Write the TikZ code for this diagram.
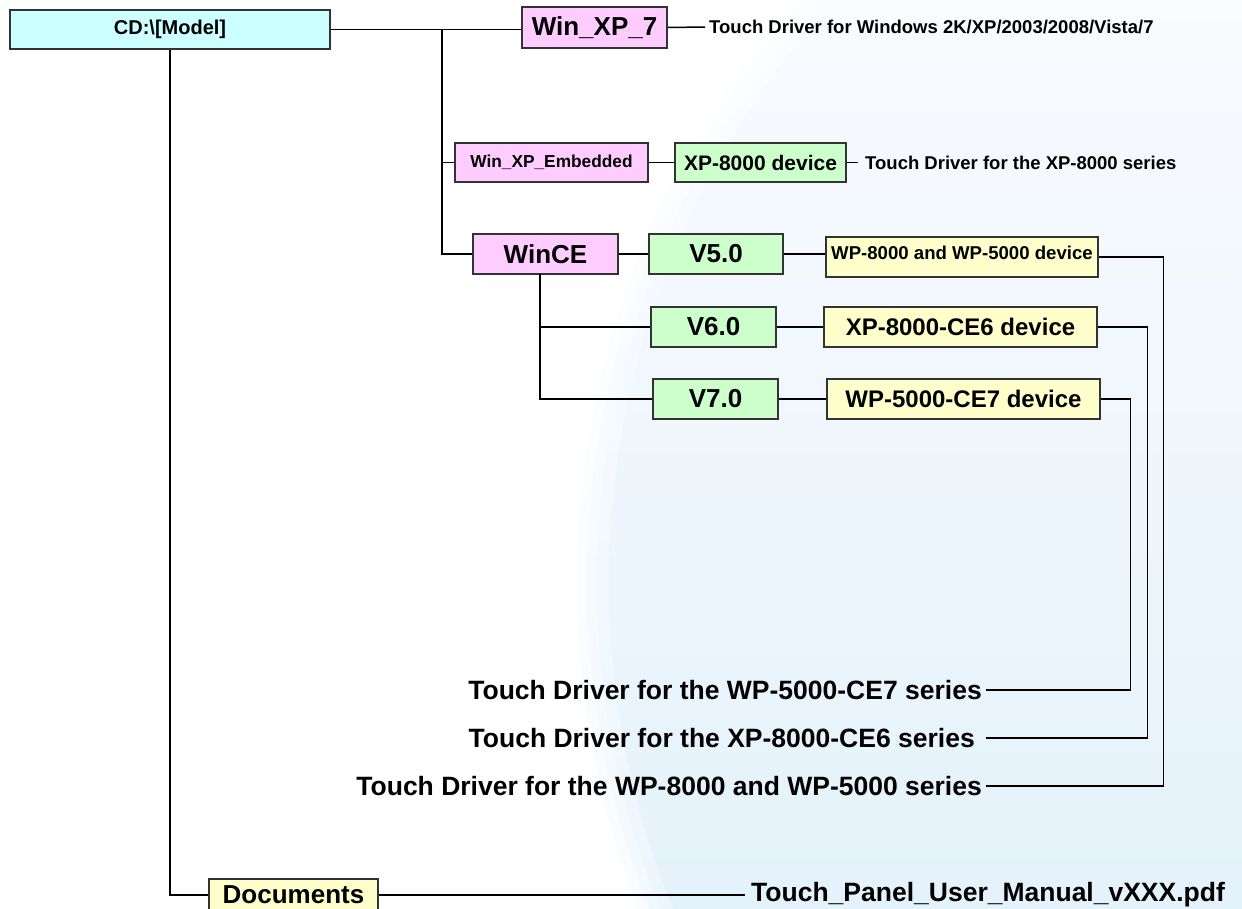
\documentclass[tikz,border=0pt]{standalone}
\usepackage{fontspec}
\setmainfont{Liberation Sans}
\usetikzlibrary{calc}
\definecolor{boxcyan}{HTML}{CCFFFF}
\definecolor{boxpink}{HTML}{FFCCFF}
\definecolor{boxgreen}{HTML}{CCFFCC}
\definecolor{boxyellow}{HTML}{FFFFCC}
\definecolor{bgtop}{HTML}{F9FBFE}
\definecolor{bgbottom}{HTML}{E4F2FB}
\def\fsz#1{\fontsize{#1}{#1}\selectfont\bfseries}
\tikzset{
	folder/.style={draw=black!80, line width=1.3pt, inner sep=0pt, font=\fsz{26}},
	note/.style={inner sep=4pt, font=\fsz{18.5}},
	bignote/.style={inner sep=4pt, font=\fsz{26.5}},
	wire/.style={line width=1.5pt, black}
}

\begin{document}
\begin{tikzpicture}[x=1pt, y=-1pt]
			%%%%% START %%%%%
			
			\useasboundingbox (0, 0) rectangle (1242, 908);
			% soft edged backdrop
			\foreach \r/\o in {898/0.25, 888/0.3, 878/0.35, 866/1} {
				\begin{scope}
					\clip (1475, 582) circle (\r pt);
					\shade[top color=bgtop, bottom color=bgbottom, opacity=\o] (0, 0) rectangle (1242, 908);
				\end{scope}
			}
			
			\node[folder, fill=boxcyan, minimum width=320pt, minimum height=39pt, font=\fsz{20}] (cd) at (170, 29.5) {CD:\textbackslash[Model]};
			\node[folder, fill=boxpink, minimum width=145pt, minimum height=41pt] (winxp) at (594.5, 27.5) {Win\_XP\_7};
			\node[folder, fill=boxpink, minimum width=193pt, minimum height=39pt, font=\fsz{17.3}] (winxpe) at (551.5, 162.5) {Win\_XP\_Embedded};
			\node[folder, fill=boxgreen, minimum width=171pt, minimum height=39pt, font=\fsz{21}] (xpdev) at (760.5, 162.5) {XP-8000 device};
			
			\node[folder, fill=boxpink, minimum width=145pt, minimum height=40pt] (wince) at (545.5, 254) {WinCE};
			\node[folder, fill=boxgreen, minimum width=134pt, minimum height=40pt] (vfive) at (716, 254) {V5.0};
			\node[folder, fill=boxgreen, minimum width=125pt, minimum height=40pt] (vsix) at (713.5, 327) {V6.0};
			\node[folder, fill=boxgreen, minimum width=125pt, minimum height=40pt] (vseven) at (715.5, 399) {V7.0};
			
			\node[folder, fill=boxyellow, minimum width=272pt, minimum height=40pt, font=\fsz{18.6}, text depth=8pt] (wpdev) at (962, 257) {WP-8000 and WP-5000 device};
			\node[folder, fill=boxyellow, minimum width=273pt, minimum height=40pt, font=\fsz{24}] (cesixdev) at (960.5, 327) {XP-8000-CE6 device};
			\node[folder, fill=boxyellow, minimum width=273pt, minimum height=40pt, font=\fsz{24}] (cesevendev) at (963.5, 399) {WP-5000-CE7 device};
			
			\node[folder, fill=boxyellow, minimum width=169pt, minimum height=32pt] (docs) at (293.5, 895) {Documents};
			
			\node[note, anchor=west] (winnote) at (705, 27) {Touch Driver for Windows 2K/XP/2003/2008/Vista/7};
			\node[note, anchor=west, inner sep=7pt] (xpnote) at (858, 162.5) {Touch Driver for the XP-8000 series};
			\node[bignote, anchor=east] (cesevennote) at (986, 690) {Touch Driver for the WP-5000-CE7 series};
			\node[bignote, anchor=east] (cesixnote) at (986, 738) {Touch Driver for the XP-8000-CE6 series\kern7pt};
			\node[bignote, anchor=east] (wpnote) at (986, 786) {Touch Driver for the WP-8000 and WP-5000 series};
			\node[bignote, anchor=west, inner sep=6pt] (pdfnote) at (745, 895) {Touch\_Panel\_User\_Manual\_vXXX.pdf};
			
			\coordinate (trunk) at (442, 29.5);
			\coordinate (cebranch) at (540, 274);
			
			\draw[wire] (cd.east) -- (cd.east -| winxp.west);
			\draw[wire] (trunk) |- (winxpe.west);
			\draw[wire] (trunk) |- (wince.west);
			\draw[wire] (winxp.east) -- (winnote.west);
			\draw[wire] (winxpe.east) -- (xpdev.west);
			\draw[wire] (xpdev.east) -- (xpnote.west);
			
			\draw[wire] (wince.east) -- (vfive.west);
			\draw[wire] (cebranch) |- (vsix.west);
			\draw[wire] (cebranch) |- (vseven.west);
			\draw[wire] (vfive.east) -- (vfive.east -| wpdev.west);
			\draw[wire] (vsix.east) -- (cesixdev.west);
			\draw[wire] (vseven.east) -- (cesevendev.west);
			
			\draw[wire] (wpdev.east) -- ++(65, 0) |- (wpnote.east);
			\draw[wire] (cesixdev.east) -- ++(50, 0) |- (cesixnote.east);
			\draw[wire] (cesevendev.east) -- ++(30, 0) |- (cesevennote.east);
			
			\draw[wire] (cd.south) |- (docs.west);
			\draw[wire] (docs.east) -- (pdfnote.west);
			
			%%%%% END %%%%%
\end{tikzpicture}
\end{document}
